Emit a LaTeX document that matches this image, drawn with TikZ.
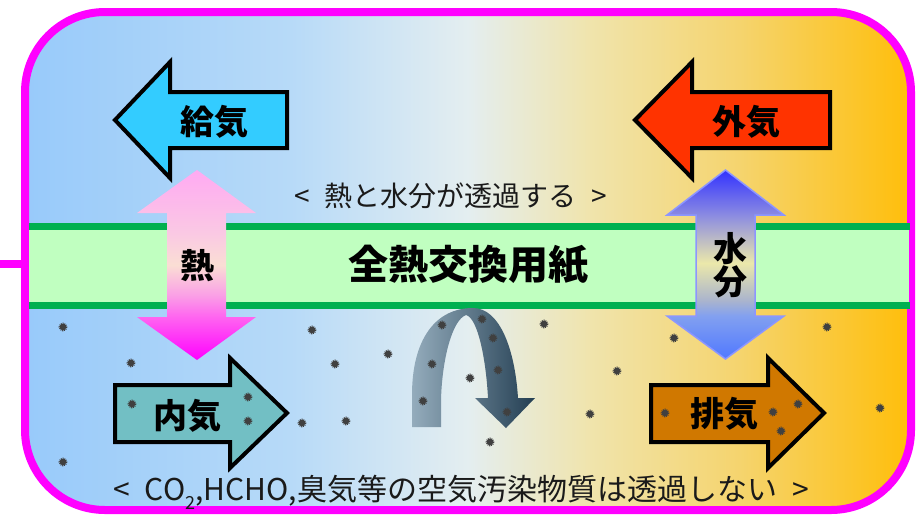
\documentclass[tikz,border=0pt]{standalone}
\usepackage{fontspec}
\newfontfamily\jp{Noto Sans CJK JP}
\definecolor{bgA}{RGB}{152,202,250}
\definecolor{bgB}{RGB}{183,218,248}
\definecolor{bgC}{RGB}{228,238,240}
\definecolor{bgD}{RGB}{240,228,172}
\definecolor{bgE}{RGB}{245,212,110}
\definecolor{bgF}{RGB}{255,190,10}
\definecolor{pkA}{RGB}{255,0,255}
\definecolor{pkB}{RGB}{255,100,240}
\definecolor{pkC}{RGB}{250,160,230}
\definecolor{pkD}{RGB}{250,222,212}
\definecolor{pkE}{RGB}{250,200,228}
\definecolor{pkF}{RGB}{255,170,242}
\definecolor{blA}{RGB}{80,120,255}
\definecolor{blB}{RGB}{130,160,240}
\definecolor{blC}{RGB}{170,180,205}
\definecolor{blD}{RGB}{235,232,170}
\definecolor{blE}{RGB}{140,140,225}
\definecolor{blF}{RGB}{50,50,255}
\definecolor{frame}{RGB}{255,0,255}
\definecolor{bandfill}{RGB}{192,255,192}
\definecolor{bandline}{RGB}{0,176,80}
\definecolor{cyanfill}{RGB}{51,204,255}
\definecolor{redfill}{RGB}{255,51,0}
\definecolor{tealfill}{RGB}{114,191,196}
\definecolor{brownfill}{RGB}{208,120,0}
\definecolor{curveL}{RGB}{148,172,188}
\definecolor{curveM}{RGB}{118,145,162}
\definecolor{curveR}{RGB}{35,62,82}
\definecolor{dust}{RGB}{64,64,64}
\definecolor{txt}{RGB}{26,26,26}
\definecolor{bloutline}{RGB}{140,150,255}
\pgfdeclarehorizontalshading{bgshade}{100bp}{color(0bp)=(bgA); color(25bp)=(bgA); color(40bp)=(bgB); color(50bp)=(bgC); color(56.9bp)=(bgD); color(65.3bp)=(bgE); color(75bp)=(bgF); color(100bp)=(bgF)}
\pgfdeclareverticalshading{pinkshade}{100bp}{color(0bp)=(pkA); color(25bp)=(pkA); color(36.3bp)=(pkB); color(42.1bp)=(pkC); color(50bp)=(pkD); color(58.7bp)=(pkE); color(75bp)=(pkF); color(100bp)=(pkF)}
\pgfdeclareverticalshading{blueshade}{100bp}{color(0bp)=(blA); color(25bp)=(blA); color(36.4bp)=(blB); color(40.5bp)=(blC); color(50.4bp)=(blD); color(63bp)=(blE); color(75bp)=(blF); color(100bp)=(blF)}
\tikzset{
  flowarrow/.style={draw=black, line width=4, line join=miter},
  boldlbl/.style={inner sep=0, font=\jp\bfseries\fontsize{34}{36}\selectfont, text=black},
  biglbl/.style={inner sep=0, font=\jp\bfseries\fontsize{40}{42}\selectfont, text=black},
  notelbl/.style={inner sep=0, font=\jp\fontsize{28}{30}\selectfont, text=txt},
  bandline/.style={draw=bandline, line width=7},
  ptcfill/.style={fill=dust},
  ptcring/.style={draw=dust, line width=1.6, dash pattern=on 0.9pt off 0.9pt}
}
\begin{document}
\begin{tikzpicture}[x=1pt,y=-1pt]
\useasboundingbox (0,0) rectangle (917,515);
% background panel
\shade[shading=bgshade, rounded corners=80] (25,12) rectangle (911,510);
\draw[frame, line width=8, rounded corners=80] (25,12) rectangle (911,510);
\coordinate (stubL) at (0,264);
\coordinate (stubR) at (25,264);
\draw[frame, line width=8] (stubL) -- (stubR);
% band
\fill[bandfill] (29,226) rectangle (909,305);
\coordinate (bt1) at (29,226); \coordinate (bt2) at (910,226);
\coordinate (bb1) at (29,305); \coordinate (bb2) at (910,305);
\draw[bandline] (bt1) -- (bt2);
\draw[bandline] (bb1) -- (bb2);
% flow arrows
\filldraw[flowarrow, fill=cyanfill] (115,120) -- (170,62) -- (170,92) -- (287,92) -- (287,148) -- (170,148) -- (170,178) -- cycle;
\filldraw[flowarrow, fill=redfill] (635,120) -- (692,62) -- (692,92) -- (830,92) -- (830,148) -- (692,148) -- (692,178) -- cycle;
\filldraw[flowarrow, fill=tealfill] (115,385) -- (230,385) -- (230,358) -- (287,413) -- (230,468) -- (230,442) -- (115,442) -- cycle;
\filldraw[flowarrow, fill=brownfill] (651,385) -- (768,385) -- (768,358) -- (824,413) -- (768,468) -- (768,442) -- (651,442) -- cycle;
% heat double arrow
\shade[shading=pinkshade] (197,170) -- (256,213) -- (226,213) -- (226,317) -- (256,317) -- (197,360) -- (137,317) -- (167,317) -- (167,213) -- (137,213) -- cycle;
% moisture double arrow
\shade[shading=blueshade, draw=bloutline, line width=1.5] (725.5,170) -- (784,215) -- (755,215) -- (755,316) -- (784,316) -- (725.5,359) -- (667,316) -- (696,316) -- (696,215) -- (667,215) -- cycle;
% curved arrow (pollutants turned back)
\shade[left color=curveL, middle color=curveM, right color=curveR]
  (412,427) -- (412,395) .. controls (412,340) and (435,308) .. (473,308)
  .. controls (500,308) and (515,350) .. (518,398) -- (535,398) -- (506,428) -- (475,398) -- (488,398)
  .. controls (486,360) and (478,318) .. (466,315)
  .. controls (452,320) and (442,360) .. (441,400) -- (441,427) -- cycle;
% dust particles
\foreach \px/\py in {63/327,131/363,132/404,63/462,248/397,248/421,312/330,335/364,388/354,302/423,346/421,442/325,432/364,423/401,482/319,493/338,498/370,470/378,507/412,490/442,544/324,617/371,590/414,674/338,827/327,665/413,773/412,798/404,781/431,880/408}{
  \fill[ptcfill] (\px,\py) circle (3.2);
  \draw[ptcring] (\px,\py) circle (3.6);
}
% labels
\node[boldlbl] (kyuki) at (214,122) {給気};
\node[boldlbl] (gaiki) at (746,122) {外気};
\node[boldlbl] (naiki) at (187,416) {内気};
\node[boldlbl] (haiki) at (724,414) {排気};
\node[boldlbl] (netsu) at (197,266) {熱};
\node[boldlbl, align=center, font=\jp\bfseries\fontsize{34}{32}\selectfont] (suibun) at (730,265) {水\\分};
\node[biglbl] (paper) at (468,265) {全熱交換用紙};
\node[notelbl] (pass) at (451,196) {<\hspace{15pt}熱と水分が透過する\hspace{15pt}>};
\node[notelbl, font=\jp\fontsize{30}{31}\selectfont] (block) at (461,492) {<\hspace{15pt}CO\raisebox{-0.3em}{\fontsize{18}{18}\selectfont 2},HCHO,臭気等の空気汚染物質は透過しない\hspace{15pt}>};
\end{tikzpicture}
\end{document}
